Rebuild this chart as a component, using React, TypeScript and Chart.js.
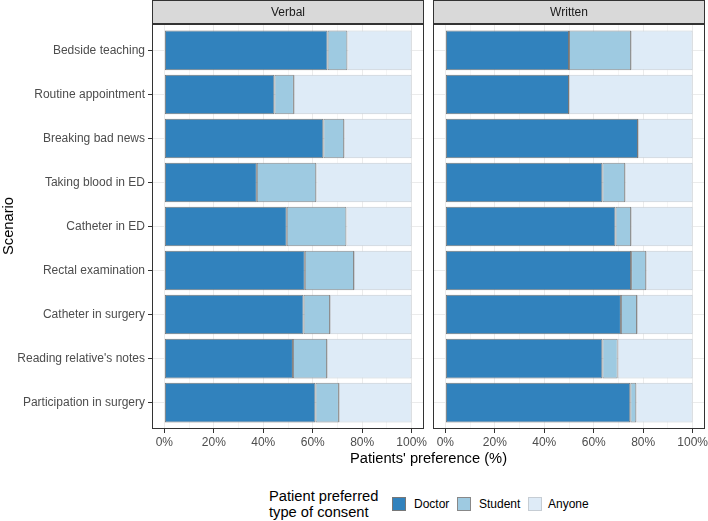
import React, { useEffect, useRef } from 'react';
import { Chart, registerables } from 'chart.js';

Chart.register(...registerables);

const scenarios = [
  'Bedside teaching',
  'Routine appointment',
  'Breaking bad news',
  'Taking blood in ED',
  'Catheter in ED',
  'Rectal examination',
  'Catheter in surgery',
  "Reading relative's notes",
  'Participation in surgery',
];

// percentages
const doctorVerbal = [66.0, 44.5, 64.3, 37.4, 49.5, 56.8, 56.3, 52.0, 61.1];
const studentVerbal = [8.0, 7.9, 8.4, 24.0, 24.1, 19.9, 10.7, 13.8, 9.5];
const anyoneVerbal = [26.0, 47.6, 27.3, 38.6, 26.4, 23.3, 33.0, 34.2, 29.4];

const doctorWritten = [50.0, 50.0, 77.9, 63.5, 68.8, 75.1, 71.0, 63.5, 74.8];
const studentWritten = [25.1, 0, 0, 9.2, 6.3, 6.1, 6.5, 6.2, 2.4];
const anyoneWritten = [24.9, 50.0, 22.1, 27.3, 24.9, 18.8, 22.5, 30.3, 22.8];

const xTickValues = [0, 10, 20, 30, 40, 50, 60, 70, 80, 90, 100];
const legendLabels = ['Doctor', 'Student', 'Anyone'];

const FONT = '"Liberation Sans", Arial, sans-serif';
const fills = ['#3182BD', '#9ECAE1', '#DEEBF7'];
const edges = ['#777777', '#888888', '#C6CDD4'];

const facetPlugin = {
  id: 'facet',
  afterDraw(chart: any, _args: any, opts: any) {
    const { ctx, chartArea } = chart;
    const { left, right, top, bottom } = chartArea;
    ctx.save();
    ctx.strokeStyle = '#333333';
    ctx.lineWidth = 1;
    ctx.strokeRect(left + 0.5, top + 0.5, right - left - 1, bottom - top - 1);
    // strip
    ctx.fillStyle = '#D9D9D9';
    ctx.fillRect(left + 0.5, 0.5, right - left - 1, top - 1);
    ctx.strokeRect(left + 0.5, 0.5, right - left - 1, top - 1);
    ctx.fillStyle = '#1A1A1A';
    ctx.font = `12px ${FONT}`;
    ctx.textAlign = 'center';
    ctx.textBaseline = 'middle';
    ctx.fillText(opts.title, (left + right) / 2, top / 2 + 0.5);
    ctx.restore();
  },
};

function makeConfig(title: string, series: number[][], showY: boolean): any {
  return {
    type: 'bar',
    data: {
      datasets: series.map((vals, k) => ({
        label: legendLabels[k],
        data: vals.map((v, i) => ({ x: v, y: i + 1 })),
        backgroundColor: fills[k],
        borderColor: edges[k],
        borderWidth: 1,
        borderSkipped: false,
        barPercentage: 0.9,
        categoryPercentage: 1,
      })),
    },
    options: {
      indexAxis: 'y',
      responsive: false,
      animation: false,
      layout: { padding: { top: 24, right: showY ? 6 : 3, left: 0, bottom: 0 } },
      plugins: {
        legend: { display: false },
        tooltip: { enabled: false },
        facet: { title },
      },
      scales: {
        x: {
          type: 'linear',
          stacked: true,
          min: -5,
          max: 105,
          border: { display: false },
          afterBuildTicks: (s: any) => {
            s.ticks = xTickValues.map((v) => ({ value: v }));
          },
          afterFit: (s: any) => {
            s.height = 22;
            s.paddingLeft = 0;
            s.paddingRight = 0;
          },
          grid: {
            color: (c: any) => (c.tick && c.tick.value % 20 === 0 ? '#EBEBEB' : '#F5F5F5'),
            tickColor: (c: any) => (c.tick && c.tick.value % 20 === 0 ? '#333333' : 'rgba(0,0,0,0)'),
            tickLength: 4,
            lineWidth: 1,
          },
          ticks: {
            autoSkip: false,
            maxRotation: 0,
            padding: 2,
            color: '#4D4D4D',
            font: { size: 12, family: FONT },
            callback: (v: any) => (v % 20 === 0 ? v + '%' : ''),
          },
        },
        y: {
          type: 'linear',
          stacked: true,
          reverse: true,
          offset: false,
          min: 0.4,
          max: 9.6,
          border: { display: false },
          afterBuildTicks: (s: any) => {
            s.ticks = scenarios.map((_, i) => ({ value: i + 1 }));
          },
          afterFit: (s: any) => {
            s.width = showY ? 152 : 5;
            s.paddingTop = 0;
            s.paddingBottom = 0;
          },
          grid: {
            offset: false,
            color: '#EBEBEB',
            tickColor: '#333333',
            tickLength: 4,
            drawTicks: showY,
          },
          ticks: {
            display: showY,
            autoSkip: false,
            padding: 3,
            color: '#4D4D4D',
            font: { size: 12, family: FONT },
            callback: (v: any) => scenarios[v - 1],
          },
        },
      },
    },
    plugins: [facetPlugin],
  };
}

const Panel: React.FC<{ title: string; series: number[][]; showY: boolean; left: number; width: number }> = ({
  title,
  series,
  showY,
  left,
  width,
}) => {
  const ref = useRef<HTMLCanvasElement>(null);
  useEffect(() => {
    if (!ref.current) return;
    const chart = new Chart(ref.current, makeConfig(title, series, showY));
    return () => chart.destroy();
  }, [title, series, showY]);
  return (
    <canvas
      ref={ref}
      width={width}
      height={451}
      style={{ position: 'absolute', left, top: 0, width, height: 451 }}
    />
  );
};

const text: React.CSSProperties = { position: 'absolute', fontFamily: FONT, whiteSpace: 'nowrap' };

export default function App() {
  const keyLeft = [392, 457, 528];
  const labelLeft = [414, 479, 548];
  return (
    <div style={{ position: 'fixed', left: 0, top: 0, width: 708, height: 521, background: '#fff', overflow: 'hidden' }}>
      <Panel title="Verbal" series={[doctorVerbal, studentVerbal, anyoneVerbal]} showY left={0} width={430} />
      <Panel title="Written" series={[doctorWritten, studentWritten, anyoneWritten]} showY={false} left={428} width={280} />
      <div
        style={{
          ...text,
          left: 7.5,
          top: 226,
          fontSize: 14.7,
          color: '#000',
          transform: 'translate(-50%, -50%) rotate(-90deg)',
        }}
      >
        Scenario
      </div>
      <div style={{ ...text, left: 228.5, width: 400, top: 449, textAlign: 'center', fontSize: 14.7, lineHeight: '18px', color: '#000' }}>
        Patients' preference (%)
      </div>
      <div style={{ ...text, left: 269, top: 488, fontSize: 14.7, lineHeight: '16px', color: '#000' }}>
        Patient preferred
        <br />
        type of consent
      </div>
      {legendLabels.map((lab, k) => (
        <React.Fragment key={lab}>
          <div
            style={{
              position: 'absolute',
              left: keyLeft[k],
              top: 497,
              width: 14,
              height: 14,
              boxSizing: 'border-box',
              background: fills[k],
              border: `1px solid ${edges[k]}`,
            }}
          />
          <div style={{ ...text, left: labelLeft[k], top: 496, fontSize: 12, lineHeight: '16px', color: '#000' }}>{lab}</div>
        </React.Fragment>
      ))}
    </div>
  );
}
